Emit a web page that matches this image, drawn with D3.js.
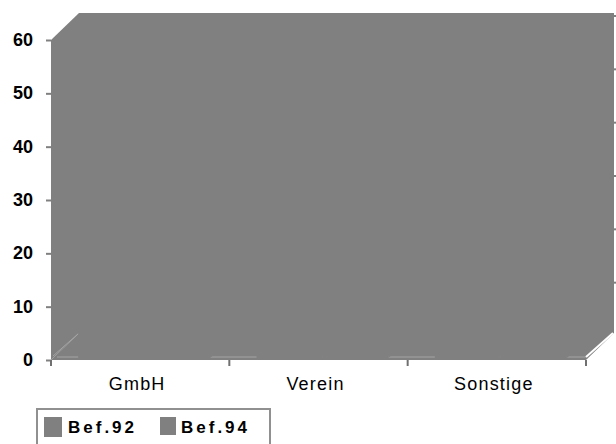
<!DOCTYPE html>
<html>
<head>
<meta charset="utf-8">
<script src="https://cdn.jsdelivr.net/npm/d3@7"></script>
<style>
  html, body { margin: 0; padding: 0; background: #fff; }
  svg { display: block; }
  text { font-family: "Liberation Sans", Arial, sans-serif; fill: #000; }
</style>
</head>
<body>
<svg id="chart" width="616" height="444"></svg>
<script>
// Categories, series and axis ticks
const categories = ["GmbH", "Verein", "Sonstige"];
const seriesNames = ["Bef.92", "Bef.94"];
const bef92 = [38, 21, 9];
const bef94 = [52, 24, 11];
const yTicks = [0, 10, 20, 30, 40, 50, 60];

const svg = d3.select("#chart");

// Front plane of the 3D plot box and its depth offset
const plotLeft = 51, plotRight = 586, plotTop = 40, plotBottom = 360;
const dx = 28, dy = -27;
const grey = "#808080";

const y = d3.scaleLinear().domain([0, 60]).range([plotBottom, plotTop]);
const x = d3.scaleBand().domain(categories).range([plotLeft, plotRight]).paddingInner(0).paddingOuter(0);
const xs = d3.scaleBand().domain(seriesNames).range([0, x.bandwidth() * 0.74]).paddingInner(0);

const poly = pts => "M" + pts.map(p => p.join(",")).join("L") + "Z";

// Walls and floor
const g = svg.append("g");
g.append("path").attr("fill", grey)
  .attr("d", poly([[plotLeft + dx, plotTop + dy], [plotRight + dx, plotTop + dy], [plotRight + dx, plotBottom + dy], [plotLeft + dx, plotBottom + dy]]));
g.append("path").attr("fill", grey)
  .attr("d", poly([[plotLeft, plotTop], [plotLeft + dx, plotTop + dy], [plotLeft + dx, plotBottom + dy], [plotLeft, plotBottom]]));
g.append("path").attr("fill", grey)
  .attr("d", poly([[plotLeft, plotBottom], [plotLeft + dx, plotBottom + dy], [plotRight + dx, plotBottom + dy], [plotRight, plotBottom]]));

// Floor edges
g.append("line").attr("x1", plotLeft + 2).attr("y1", plotBottom - 4).attr("x2", plotLeft + dx).attr("y2", plotBottom + dy)
  .attr("stroke", "#a4a4a4").attr("stroke-width", 1);
g.append("line").attr("x1", plotLeft + 6).attr("y1", plotBottom - 3).attr("x2", plotRight).attr("y2", plotBottom - 3)
  .attr("stroke", "#a4a4a4").attr("stroke-width", 1);
g.append("line").attr("x1", plotRight).attr("y1", plotBottom - 3).attr("x2", plotRight + dx - 1).attr("y2", plotBottom + dy)
  .attr("stroke", "#ffffff").attr("stroke-width", 2);

// Stubs of the back-wall grid on the right edge
g.selectAll("line.stub").data(yTicks.filter(v => v > 0)).join("line")
  .attr("class", "stub")
  .attr("x1", plotRight + dx - 1).attr("x2", plotRight + dx + 2)
  .attr("y1", d => y(d) + dy + 3).attr("y2", d => y(d) + dy + 3)
  .attr("stroke", grey).attr("stroke-width", 2);

// 3D bars
const bars = [];
categories.forEach((c, i) => {
  [bef92[i], bef94[i]].forEach((v, j) => {
    bars.push({ c, s: seriesNames[j], v });
  });
});
const groupOffset = (x.bandwidth() - x.bandwidth() * 0.74) / 2 + 4;
const bd = 10, bdy = -9;
const bg = svg.append("g");
bars.forEach(b => {
  const x0 = x(b.c) + groupOffset + xs(b.s);
  const w = xs.bandwidth();
  const yt = y(b.v), yb = plotBottom - 2;
  bg.append("path").attr("fill", grey)
    .attr("d", poly([[x0, yb], [x0, yt], [x0 + w, yt], [x0 + w, yb]]));
  bg.append("path").attr("fill", grey)
    .attr("d", poly([[x0, yt], [x0 + bd, yt + bdy], [x0 + w + bd, yt + bdy], [x0 + w, yt]]));
  bg.append("path").attr("fill", grey)
    .attr("d", poly([[x0 + w, yt], [x0 + w + bd, yt + bdy], [x0 + w + bd, yb + bdy], [x0 + w, yb]]));
});

// Y axis
const yAxis = svg.append("g").attr("transform", `translate(${plotLeft},0)`)
  .call(d3.axisLeft(y).tickValues(yTicks).tickSize(5).tickPadding(13));
yAxis.select(".domain").remove();
yAxis.selectAll(".tick line").attr("stroke", grey).attr("stroke-width", 2);
yAxis.selectAll(".tick text")
  .style("font-size", "18px").style("font-weight", "bold")
  .attr("dy", "0.3em");

// X axis: ticks at the category boundaries
const bounds = [plotLeft].concat(categories.map(c => x(c) + x.bandwidth()));
svg.append("g").selectAll("line").data(bounds).join("line")
  .attr("x1", d => d).attr("x2", d => d)
  .attr("y1", plotBottom).attr("y2", plotBottom + 6)
  .attr("stroke", "#707070").attr("stroke-width", 2);
svg.append("g").selectAll("text").data(categories).join("text")
  .attr("x", d => x(d) + x.bandwidth() / 2 - 3)
  .attr("y", plotBottom + 30)
  .attr("text-anchor", "middle")
  .style("font-size", "18px")
  .style("letter-spacing", "1.2px")
  .text(d => d);

// Legend
const lg = svg.append("g");
lg.append("rect").attr("x", 37).attr("y", 409).attr("width", 233).attr("height", 40)
  .attr("fill", "#fff").attr("stroke", "#909090").attr("stroke-width", 2);
const legendX = [44, 160];
const swatch = [[18, 20], [16, 18]];
seriesNames.forEach((s, i) => {
  lg.append("rect").attr("x", legendX[i]).attr("y", 417).attr("width", swatch[i][0]).attr("height", swatch[i][1])
    .attr("fill", grey);
  lg.append("text").attr("x", legendX[i] + 24 - (i ? 3 : 0)).attr("y", 433)
    .style("font-size", "17px").style("font-weight", "bold").style("letter-spacing", "3px")
    .text(s);
});
</script>
</body>
</html>
